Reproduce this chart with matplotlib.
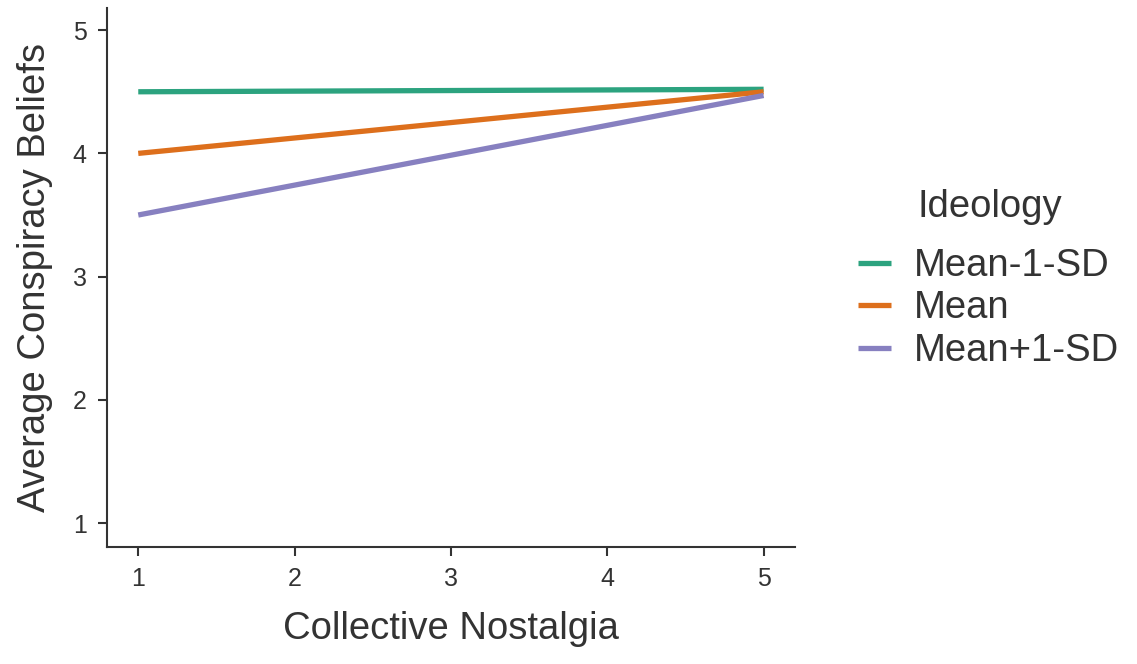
import matplotlib.pyplot as plt
import numpy as np

# Datos
nostalgia = [1, 5]
groups = ['Mean-1-SD', 'Mean', 'Mean+1-SD']
mean_minus = [4.50, 4.52]
mean_mid = [4.00, 4.50]
mean_plus = [3.50, 4.47]
series = [mean_minus, mean_mid, mean_plus]
colors = ['#2ca37f', '#dd6f1c', '#8780c0']

plt.rcParams['font.family'] = ['Liberation Sans', 'DejaVu Sans']

fig = plt.figure(figsize=(11.37, 6.64), dpi=100)
ax = fig.add_axes([0.0941, 0.176, 0.605, 0.812])

for name, vals, c in zip(groups, series, colors):
    ax.plot(nostalgia, vals, color=c, lw=3.8, label=name, solid_capstyle='butt')

ax.set_xlim(0.8, 5.2)
ax.set_ylim(0.805, 5.18)
ax.set_xticks([1, 2, 3, 4, 5])
ax.set_yticks([1, 2, 3, 4, 5])
for s in ['top', 'right']:
    ax.spines[s].set_visible(False)
for s in ['left', 'bottom']:
    ax.spines[s].set_color('#333333')
    ax.spines[s].set_linewidth(1.5)
ax.tick_params(colors='#333333', labelsize=18, length=6.5, width=1.5, pad=8)
ax.set_xlabel('Collective Nostalgia', fontsize=27.5, color='#333333', labelpad=14)
ax.set_ylabel('Average Conspiracy Beliefs', fontsize=27.5, color='#333333', labelpad=14)

leg = ax.legend(loc='upper left', bbox_to_anchor=(1.092, 0.555),
                frameon=False, fontsize=27.5, handlelength=0.85,
                handletextpad=0.6, labelspacing=0.17, borderpad=0, borderaxespad=0)
for t in leg.get_texts():
    t.set_color('#333333')
fig.text(918 / 1137, 1 - 207 / 664, 'Ideology', fontsize=27.5, color='#333333',
         ha='left', va='center')

fig.savefig('out.png', dpi=100)
